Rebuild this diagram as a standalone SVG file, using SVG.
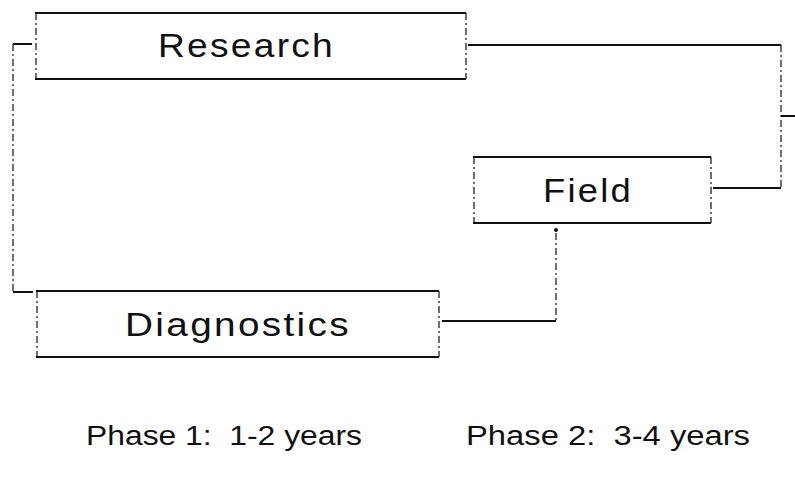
<svg xmlns="http://www.w3.org/2000/svg" width="795" height="481" viewBox="0 0 795 481">
  <style>
    .edge-h { stroke: #111; stroke-width: 2; fill: none; }
    .edge-v { stroke: #222; stroke-width: 1.3; stroke-dasharray: 7 3 2 3; fill: none; }
    .label { font-family: "Liberation Sans", Arial, sans-serif; font-size: 33px; letter-spacing: 2px; fill: #111; }
    .phase { font-family: "Liberation Sans", Arial, sans-serif; font-size: 27px; fill: #111; }
  </style>
  <rect width="795" height="481" fill="#fff"/>

  <!-- Connectors -->
  <g id="connectors">
    <!-- Research / Diagnostics bracket on the left -->
    <path class="edge-h" d="M13 44 H32"/>
    <path class="edge-v" d="M13 44 V292"/>
    <path class="edge-h" d="M13 292 H33"/>
    <!-- Research to Field on the right -->
    <path class="edge-h" d="M468 45 H781"/>
    <path class="edge-v" d="M781 45 V188"/>
    <path class="edge-h" d="M781 116 H795"/>
    <path class="edge-h" d="M713 188 H781"/>
    <!-- Field down to Diagnostics -->
    <circle cx="556" cy="230" r="2" fill="#111"/>
    <path class="edge-v" d="M556 233 V321"/>
    <path class="edge-h" d="M442 321 H556"/>
  </g>

  <!-- Research -->
  <g id="research">
    <path class="edge-h" d="M35 13 H466 M35 79 H466"/>
    <path class="edge-v" d="M36 13 V79 M466 13 V79"/>
    <text class="label" x="158" y="57" textLength="177" lengthAdjust="spacingAndGlyphs">Research</text>
  </g>

  <!-- Field -->
  <g id="field">
    <path class="edge-h" d="M473 157 H711 M473 223 H711"/>
    <path class="edge-v" d="M474 157 V223 M711 157 V223"/>
    <text class="label" x="543" y="202" textLength="90" lengthAdjust="spacingAndGlyphs">Field</text>
  </g>

  <!-- Diagnostics -->
  <g id="diagnostics">
    <path class="edge-h" d="M36 291 H439 M36 357 H439"/>
    <path class="edge-v" d="M37 291 V357 M439 291 V357"/>
    <text class="label" x="125" y="336" textLength="226" lengthAdjust="spacingAndGlyphs">Diagnostics</text>
  </g>

  <!-- Phase captions -->
  <g id="phases">
    <text class="phase" x="86" y="445" xml:space="preserve" textLength="276" lengthAdjust="spacingAndGlyphs">Phase 1:  1-2 years</text>
    <text class="phase" x="466" y="445" xml:space="preserve" textLength="284" lengthAdjust="spacingAndGlyphs">Phase 2:  3-4 years</text>
  </g>
</svg>
